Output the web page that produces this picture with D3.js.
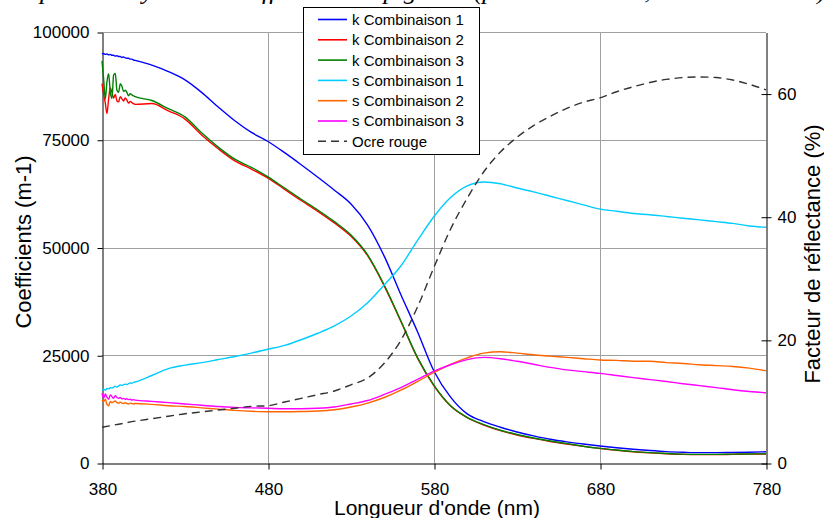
<!DOCTYPE html>
<html>
<head>
<meta charset="utf-8">
<script src="https://cdn.jsdelivr.net/npm/d3@7"></script>
<style>
  body { margin: 0; background: white; }
  svg text { font-family: "Liberation Sans", Arial, sans-serif; }
</style>
</head>
<body>
<div id="chart"></div>
<script>
// wavelengths (nm) for k and s curves: 1 nm at the noisy start, then 10 nm
const wavelengths = [380,381,382,383,384,385,386,387,388,389,390,391,392,393,394,395,396,397,398,399,400,
	410,420,430,440,450,460,470,480,490,500,510,520,530,540,550,560,570,580,590,600,
	610,620,630,640,650,660,670,680,690,700,710,720,730,740,750,760,770,780];

const kComb1 = [94900,95000,94800,94900,94700,94800,94600,94600,94400,94500,94300,94300,94100,94200,94000,93900,93900,93700,93700,93500,93400,
	92300,90800,88900,86000,82600,79400,76700,74600,72000,69200,66300,63300,60100,55200,48000,39100,30500,21300,15300,11400,
	9600,8300,7200,6300,5500,4900,4400,3950,3550,3200,2900,2650,2500,2400,2400,2450,2500,2600];

const kComb2 = [88000,85500,83500,81100,84500,87000,86000,84700,85500,84000,83800,85000,84500,84000,84700,84200,83500,83900,83600,83400,83200,
	83400,81700,79800,76100,72900,70100,68200,66100,63500,60900,58400,55700,52600,48100,41100,32900,24400,17900,13200,10500,
	8800,7500,6500,5700,5000,4400,3850,3350,2950,2600,2350,2150,2000,1950,1950,2000,2050,2100];

const kComb3 = [93300,89000,84500,88500,90300,86000,84600,90000,90400,86500,86000,88000,87400,86200,86500,86000,85200,85700,85400,85200,85000,
	84100,82200,80300,76600,73300,70500,68600,66400,63800,61200,58700,56000,52900,48300,41300,33000,24500,18000,13300,10600,
	8900,7600,6600,5800,5100,4500,3900,3400,3000,2650,2400,2200,2050,2000,2000,2050,2100,2150];

const sComb1 = [16800,17100,16900,17300,17200,17500,17400,17600,17800,17600,17900,18100,18000,18200,18300,18200,18400,18600,18500,18700,18800,
	20300,21900,22700,23300,24000,24700,25500,26400,27300,28600,30100,31800,34100,37200,41300,45700,51600,57200,61600,64300,
	65200,64800,63800,62900,61900,60900,59900,58900,58400,57900,57600,57200,56800,56400,56000,55600,55000,54700];

const sComb2 = [14600,14200,14800,13600,13300,14300,14000,14200,14400,14000,13900,14100,13900,13800,14000,13800,13700,13900,13800,13700,13800,
	13600,13300,13100,12800,12500,12200,12000,11900,11900,11950,12050,12350,13000,13900,15200,16900,18900,21000,22900,24400,
	25500,25800,25500,25100,24800,24500,24200,23900,23800,23600,23600,23300,23100,22800,22600,22400,22000,21400];

const sComb3 = [16200,15000,16000,15200,14800,15800,15400,15000,15600,15200,15000,15200,14900,15000,14800,14900,14700,14800,14600,14700,14600,
	14300,14000,13700,13400,13100,12900,12800,12700,12600,12600,12700,13000,13700,14500,15900,17500,19400,21300,22800,24000,
	24500,24200,23600,22900,22200,21600,21200,20800,20300,19800,19350,18900,18400,17950,17500,17000,16600,16300];

// reflectance factor (%) of the red ochre, right axis
const ocreWavelengths = [380,390,400,410,420,430,440,450,460,470,480,490,500,510,520,530,540,550,560,570,580,
	590,600,610,620,630,640,650,660,670,680,690,700,710,720,730,740,750,760,770,780];
const ocreRouge = [5.8,6.3,6.8,7.2,7.6,8.0,8.3,8.6,8.9,9.2,9.3,9.9,10.5,11.1,11.7,12.7,13.8,16.2,19.9,25.3,31.8,
	38.0,43.0,47.3,50.5,52.9,54.8,56.3,57.6,58.6,59.3,60.3,61.1,61.8,62.3,62.6,62.7,62.6,62.2,61.5,60.6];

const xTicks = [380, 480, 580, 680, 780];
const leftTicks = [0, 25000, 50000, 75000, 100000];
const rightTicks = [0, 20, 40, 60];

const seriesNames = ["k Combinaison 1", "k Combinaison 2", "k Combinaison 3",
	"s Combinaison 1", "s Combinaison 2", "s Combinaison 3"];
const seriesColors = ["#0000FF", "#FF0000", "#008000", "#00CCFF", "#FF6600", "#FF00FF"];
const seriesValues = [kComb1, kComb2, kComb3, sComb1, sComb2, sComb3];

const width = 824, height = 518;

const svg = d3.select("#chart")
	.append("svg")
	.attr("width", width)
	.attr("height", height)
	.style("display", "block");

const x = d3.scaleLinear().domain([380, 780]).range([102, 766]);
const yLeft = d3.scaleLinear().domain([0, 100000]).range([463, 32]);
const yRight = d3.scaleLinear().domain([0, 70]).range([463, 32]);

// title, only its descenders show at the top edge
svg.append("text")
	.attr("x", 27)
	.attr("y", -1)
	.style("font-family", "'Liberation Serif', 'Times New Roman', serif")
	.style("font-style", "italic")
	.style("font-size", "26px")
	.text("Spectre moyen des coefficients du pigment (poudre non liée, sans traitement)");

// grid
svg.append("g")
	.selectAll("line")
	.data(leftTicks.slice(1))
	.enter()
	.append("line")
	.attr("x1", 102).attr("x2", 766)
	.attr("y1", d => Math.round(yLeft(d)) + 0.5)
	.attr("y2", d => Math.round(yLeft(d)) + 0.5)
	.attr("stroke", "#a0a0a0");

svg.append("g")
	.selectAll("line")
	.data(xTicks.slice(1, -1))
	.enter()
	.append("line")
	.attr("x1", d => Math.round(x(d)) + 0.5)
	.attr("x2", d => Math.round(x(d)) + 0.5)
	.attr("y1", 32).attr("y2", 463)
	.attr("stroke", "#a0a0a0");

// axes
const axisLeft = svg.append("g")
	.attr("transform", "translate(102.5,0.5)")
	.call(d3.axisLeft(yLeft).tickValues(leftTicks).tickSize(5).tickSizeOuter(0).tickPadding(8).tickFormat(d3.format("d")));

const axisRight = svg.append("g")
	.attr("transform", "translate(766.5,0.5)")
	.call(d3.axisRight(yRight).tickValues(rightTicks).tickSize(5).tickSizeOuter(0).tickPadding(6));
axisRight.selectAll(".tick line").attr("x1", -5);

const axisBottom = svg.append("g")
	.attr("transform", "translate(0.5,463.5)")
	.call(d3.axisBottom(x).tickValues(xTicks).tickSize(6).tickSizeOuter(0).tickPadding(13).tickFormat(d3.format("d")));

[axisLeft, axisRight, axisBottom].forEach(a => {
	a.selectAll("text")
		.style("font-family", "'Liberation Sans', Arial, sans-serif")
		.style("font-size", "17px")
		.attr("fill", "#000");
	a.selectAll("line, path").attr("stroke", "#000");
});

// axis titles
svg.append("text")
	.attr("transform", "translate(31,242) rotate(-90)")
	.attr("text-anchor", "middle")
	.style("font-size", "22px")
	.text("Coefficients (m-1)");

svg.append("text")
	.attr("transform", "translate(820,254) rotate(-90)")
	.attr("text-anchor", "middle")
	.style("font-size", "22px")
	.text("Facteur de réflectance (%)");

svg.append("text")
	.attr("x", 437)
	.attr("y", 515)
	.attr("text-anchor", "middle")
	.style("font-size", "21px")
	.text("Longueur d'onde (nm)");

// curves
const lineLeft = d3.line()
	.x((d, i) => x(wavelengths[i]))
	.y(d => yLeft(d))
	.curve(d3.curveMonotoneX);

svg.append("g")
	.selectAll("path")
	.data(seriesValues)
	.enter()
	.append("path")
	.attr("d", d => lineLeft(d))
	.attr("stroke", (d, i) => seriesColors[i])
	.attr("stroke-width", 1.4)
	.attr("fill", "none");

const lineRight = d3.line()
	.x((d, i) => x(ocreWavelengths[i]))
	.y(d => yRight(d))
	.curve(d3.curveMonotoneX);

svg.append("path")
	.attr("d", lineRight(ocreRouge))
	.attr("stroke", "#333")
	.attr("stroke-width", 1.4)
	.attr("stroke-dasharray", "8,5")
	.attr("fill", "none");

// legend
const legendItems = seriesNames.map((n, i) => ({name: n, color: seriesColors[i], dash: null}))
	.concat([{name: "Ocre rouge", color: "#333", dash: "8,5"}]);

const legend = svg.append("g");
legend.append("rect")
	.attr("x", 303.5).attr("y", 7.5)
	.attr("width", 176).attr("height", 147)
	.attr("fill", "white")
	.attr("stroke", "#000");

const rows = legend.selectAll("g.row")
	.data(legendItems)
	.enter()
	.append("g")
	.attr("class", "row")
	.attr("transform", (d, i) => `translate(0,${19.5 + i * 20.3})`);

rows.append("line")
	.attr("x1", 318).attr("x2", 347)
	.attr("stroke", d => d.color)
	.attr("stroke-width", 1.6)
	.attr("stroke-dasharray", d => d.dash);

rows.append("text")
	.attr("x", 352)
	.attr("dy", "0.36em")
	.style("font-size", "15px")
	.text(d => d.name);
</script>
</body>
</html>
